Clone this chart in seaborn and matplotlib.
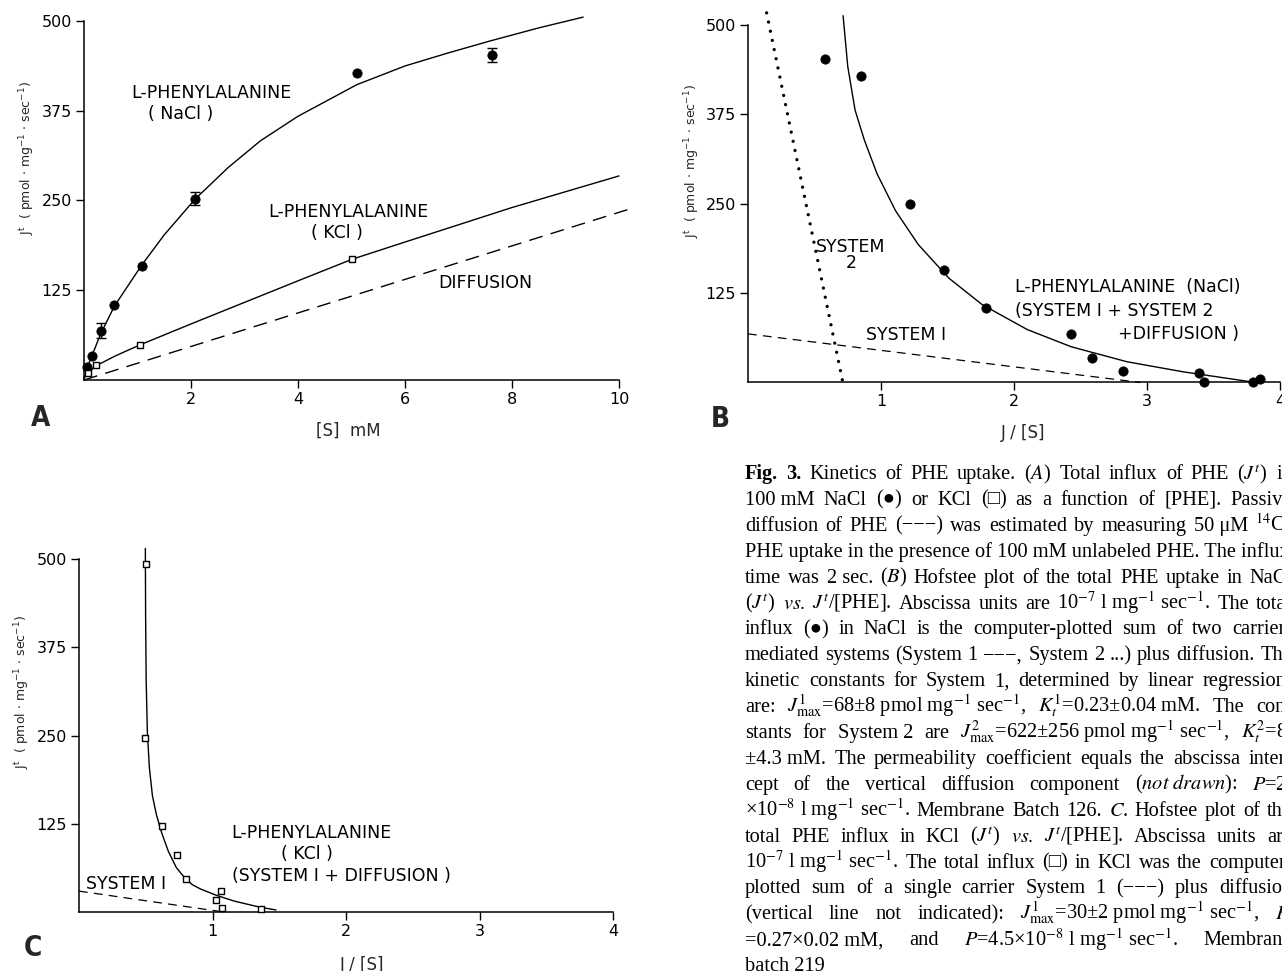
import matplotlib
matplotlib.use("Agg")
import matplotlib.pyplot as plt
import seaborn as sns

W, H = 1282, 971

# ---- Panel A: total influx vs [S] ----
NACL_S = [0.05, 0.15, 0.31, 0.57, 1.08, 2.08, 5.10, 7.63]
NACL_J = [17.7, 34, 68.6, 104.5, 158.6, 252, 427.7, 452.4]
NACL_ERR_S = [0.31, 2.08, 7.63]
NACL_ERR_J = [68.6, 252, 452.4]
NACL_ERR = [10.5, 9.0, 9.3]
KCL_S = [0.08, 0.23, 1.05, 5.01]
KCL_J = [9.8, 20.5, 49, 168]

NACL_FIT_S = [0, 0.05, 0.15, 0.31, 0.57, 1.08, 1.5, 2.08, 2.7, 3.3, 4.0, 5.1, 6.0, 6.8, 7.6, 8.5, 9.33]
NACL_FIT_J = [0, 16, 34, 64, 103, 160, 202, 252, 296, 333, 367, 411, 437, 455, 472, 490, 505]
KCL_FIT_S = [0, 0.08, 0.23, 0.6, 1.05, 2, 3, 4, 5.01, 6, 7, 8, 9, 10]
KCL_FIT_J = [3, 10, 20, 34, 49, 78, 108, 138, 168, 192, 216, 240, 262, 284]
DIFF_S = [0, 10.2]
DIFF_J = [0, 238]

# ---- Panel B: Hofstee plot, NaCl ----
B_X = [0.58, 0.85, 1.22, 1.47, 1.79, 2.43, 2.59, 2.82, 3.39, 3.43, 3.80, 3.85]
B_Y = [452, 428, 249, 157.6, 104.6, 68, 34.2, 16.4, 13.1, 0, 0, 4.7]
B_FIT_X = [0.715, 0.75, 0.805, 0.875, 0.97, 1.11, 1.28, 1.51, 1.76, 2.10, 2.43, 2.85, 3.27, 3.78]
B_FIT_Y = [513, 442, 381, 339, 292, 240, 193, 146, 109, 74, 50, 29, 15, 1]
B_SYS2_X = [0.14, 0.71]
B_SYS2_Y = [517, 3]
B_SYS1_X = [0, 2.95]
B_SYS1_Y = [68, 0]

# ---- Panel C: Hofstee plot, KCl ----
C_X = [0.50, 0.496, 0.62, 0.736, 0.80, 1.063, 1.028, 1.073, 1.36]
C_Y = [493, 247, 122, 80.7, 46.7, 30.6, 17, 5.7, 4.7]
C_FIT_X = [0.497, 0.499, 0.503, 0.512, 0.527, 0.55, 0.58, 0.62, 0.67, 0.73, 0.80, 0.85, 0.91, 1.03, 1.16, 1.36, 1.476]
C_FIT_Y = [515, 420, 330, 255, 205, 165, 138, 112, 86, 63, 47, 39, 33, 24, 16, 7, 3.3]
C_SYS1_X = [0, 1.1]
C_SYS1_Y = [30, 0]

Y_TICKS = [125, 250, 375, 500]
YLABEL = r"J$^{\mathrm{t}}$  ( pmol $\cdot$ mg$^{-1}$ $\cdot$ sec$^{-1}$)"

DASHES = "(\u2212\u2212\u2212)"
CAPTION = [
    [("Fig.", "bold"), ("3.", "bold"), "Kinetics", "of", "PHE", "uptake.", r"($\mathit{A}$)", "Total",
     "influx", "of", "PHE", r"($J^{t}$)", "in"],
    ["100 mM", "NaCl", "(\u25cf)", "or", "KCl", "(\u25a1)", "as", "a", "function", "of", "[PHE].", "Passive"],
    ["diffusion", "of", "PHE", DASHES, "was", "estimated", "by", "measuring", "50 \u03bcM", r"$^{14}$C-"],
    ["PHE uptake in the presence of 100 mM unlabeled PHE. The influx"],
    ["time", "was", "2 sec.", r"($\mathit{B}$)", "Hofstee", "plot", "of", "the", "total", "PHE", "uptake",
     "in", "NaCl"],
    [r"($J^{t}$)", r"$vs.$", r"$J^{t}$/[PHE].", "Abscissa", "units", "are",
     r"10$^{-7}$ l mg$^{-1}$ sec$^{-1}$.", "The", "total"],
    ["influx", "(\u25cf)", "in", "NaCl", "is", "the", "computer-plotted", "sum", "of", "two", "carrier-"],
    ["mediated", "systems", "(System", "1", "\u2212\u2212\u2212,", "System", "2", "...)", "plus",
     "diffusion.", "The"],
    ["kinetic", "constants", "for", "System", "1,", "determined", "by", "linear", "regression,"],
    ["are:", r"$J^{1}_{\mathrm{max}}$=68±8 pmol mg$^{-1}$ sec$^{-1}$,",
     r"$K^{1}_{t}$=0.23±0.04 mM.", "The", "con-"],
    ["stants", "for", "System 2", "are", r"$J^{2}_{\mathrm{max}}$=622±256 pmol mg$^{-1}$ sec$^{-1}$,",
     r"$K^{2}_{t}$=8."],
    ["±4.3 mM.", "The", "permeability", "coefficient", "equals", "the", "abscissa", "inter-"],
    ["cept", "of", "the", "vertical", "diffusion", "component", r"($\mathit{not\ drawn}$):", r"$P$=2."],
    [r"×10$^{-8}$ l mg$^{-1}$ sec$^{-1}$.", "Membrane", "Batch", "126.", r"$C$.", "Hofstee", "plot",
     "of", "the"],
    ["total", "PHE", "influx", "in", "KCl", r"($J^{t}$)", r"$vs.$", r"$J^{t}$/[PHE].", "Abscissa", "units",
     "are"],
    [r"10$^{-7}$ l mg$^{-1}$ sec$^{-1}$.", "The", "total", "influx", "(\u25a1)", "in", "KCl", "was", "the",
     "computer-"],
    ["plotted", "sum", "of", "a", "single", "carrier", "System", "1", DASHES, "plus", "diffusion"],
    ["(vertical", "line", "not", "indicated):",
     r"$J^{1}_{\mathrm{max}}$=30±2 pmol mg$^{-1}$ sec$^{-1}$,", r"$K$"],
    ["=0.27×0.02 mM,", "and", r"$P$=4.5×10$^{-8}$ l mg$^{-1}$ sec$^{-1}$.", "Membrane"],
    ["batch 219"],
]


def px_axes(fig, left, right, top, bottom):
    return fig.add_axes([left / W, 1 - bottom / H, (right - left) / W, (bottom - top) / H])


def style_axes(ax, xmax, xticks):
    ax.set_xlim(0, xmax)
    ax.set_ylim(0, 500)
    sns.despine(ax=ax)
    ax.set_facecolor("none")
    for s in ("left", "bottom"):
        ax.spines[s].set_linewidth(1.1)
        ax.spines[s].set_color("black")
    ax.spines["left"].set_bounds(0, 500)
    ax.spines["bottom"].set_bounds(0, xmax)
    ax.set_xticks(xticks)
    ax.set_xticklabels([str(t) for t in xticks])
    ax.set_yticks(Y_TICKS)
    ax.set_yticklabels([str(t) for t in Y_TICKS])
    ax.tick_params(direction="out", length=6, width=1, color="black", labelsize=11.5,
                   labelcolor="black", pad=2.5)
    ax.set_xlabel("")
    ax.set_ylabel("")


def curve(ax, x, y, **kw):
    sns.lineplot(x=x, y=y, ax=ax, color="black", estimator=None, sort=False,
                 clip_on=False, **kw)


def note(ax, x, y, s, ha="left"):
    ax.text(x, y, s, ha=ha, va="center", fontsize=12.5, color="black")


def set_caption(fig, lines, left=745, right=1292, top=479, step=25.9):
    renderer = fig.canvas.get_renderer()
    for i, toks in enumerate(lines):
        yb = 1 - (top + i * step) / H
        texts = []
        for tok in toks:
            weight = "normal"
            if isinstance(tok, tuple):
                tok, weight = tok
            t = fig.text(0, yb, tok, fontsize=14.7, fontweight=weight, va="baseline",
                         family=["Liberation Serif", "DejaVu Serif", "DejaVu Sans"],
                         math_fontfamily="stix", color="black")
            texts.append(t)
        widths = [t.get_window_extent(renderer).width for t in texts]
        last = i == len(lines) - 1
        if len(texts) > 1 and not last:
            gap = max((right - left - sum(widths)) / (len(texts) - 1), 4)
        else:
            gap = 5
        x = left
        for t, w in zip(texts, widths):
            t.set_x(x / W)
            x += w + gap


def main():
    sns.set_theme(style="ticks")
    plt.rcParams["font.family"] = ["DejaVu Sans"]
    plt.rcParams["mathtext.fontset"] = "dejavusans"

    fig = plt.figure(figsize=(W / 100, H / 100), dpi=100)
    fig.patch.set_facecolor("white")

    # ---------- A ----------
    ax = px_axes(fig, 84, 619, 20.7, 380)
    curve(ax, NACL_FIT_S, NACL_FIT_J, linewidth=1.0)
    curve(ax, KCL_FIT_S, KCL_FIT_J, linewidth=1.0)
    curve(ax, DIFF_S, DIFF_J, linewidth=1.0, linestyle=(0, (10, 6)))
    ax.errorbar(NACL_ERR_S, NACL_ERR_J, yerr=NACL_ERR, fmt="none", ecolor="black",
                elinewidth=1, capsize=3.5, capthick=1)
    sns.scatterplot(x=NACL_S, y=NACL_J, ax=ax, color="black", marker="o", s=45,
                    edgecolor="black", zorder=5, clip_on=False)
    sns.scatterplot(x=KCL_S, y=KCL_J, ax=ax, color="white", marker="s", s=20,
                    edgecolor="black", linewidth=1, zorder=5, clip_on=False)
    style_axes(ax, 10, [2, 4, 6, 8, 10])
    note(ax, 0.89, 399, "L-PHENYLALANINE")
    note(ax, 1.20, 370, "( NaCl )")
    note(ax, 3.45, 234, "L-PHENYLALANINE")
    note(ax, 4.25, 204.5, "( KCl )")
    note(ax, 6.62, 135, "DIFFUSION")

    # ---------- B ----------
    bx = px_axes(fig, 748, 1280, 25, 382.5)
    curve(bx, B_FIT_X, B_FIT_Y, linewidth=1.0)
    curve(bx, B_SYS2_X, B_SYS2_Y, linewidth=2.4, linestyle=(0, (0.01, 2.8)),
          dash_capstyle="round")
    curve(bx, B_SYS1_X, B_SYS1_Y, linewidth=0.9, linestyle=(0, (7, 5)))
    sns.scatterplot(x=B_X, y=B_Y, ax=bx, color="black", marker="o", s=45,
                    edgecolor="black", zorder=5, clip_on=False)
    style_axes(bx, 4, [1, 2, 3, 4])
    note(bx, 0.51, 190, "SYSTEM")
    note(bx, 0.78, 166.5, "2", ha="center")
    note(bx, 0.89, 66.6, "SYSTEM I")
    note(bx, 2.01, 133, "L-PHENYLALANINE  (NaCl)")
    note(bx, 2.01, 99.4, "(SYSTEM I + SYSTEM 2")
    note(bx, 2.78, 68, "+DIFFUSION )")

    # ---------- C ----------
    cx = px_axes(fig, 79, 613, 559, 912.3)
    curve(cx, C_FIT_X, C_FIT_Y, linewidth=1.0)
    curve(cx, C_SYS1_X, C_SYS1_Y, linewidth=0.9, linestyle=(0, (7, 5)))
    sns.scatterplot(x=C_X, y=C_Y, ax=cx, color="white", marker="s", s=20,
                    edgecolor="black", linewidth=1, zorder=5, clip_on=False)
    style_axes(cx, 4, [1, 2, 3, 4])
    note(cx, 0.055, 40, "SYSTEM I")
    note(cx, 1.14, 112, "L-PHENYLALANINE")
    note(cx, 1.515, 82.7, "( KCl )")
    note(cx, 1.148, 50.8, "(SYSTEM I + DIFFUSION )")

    # axis labels and panel letters (figure pixel positions)
    for x, y in ((27, 158), (692, 161), (22, 692)):
        fig.text(x / W, 1 - y / H, YLABEL, rotation=90, ha="center", va="center", fontsize=9)
    fig.text(348 / W, 1 - 431 / H, "[S]  mM", ha="center", va="center", fontsize=12)
    fig.text(1023 / W, 1 - 433 / H, "J / [S]", ha="center", va="center", fontsize=12)
    fig.text(362 / W, 1 - 965 / H, "J / [S]", ha="center", va="center", fontsize=12)
    for x, y, s in ((41, 418, "A"), (720, 419, "B"), (33, 948, "C")):
        fig.text(x / W, 1 - y / H, s, ha="center", va="center", fontsize=20,
                 fontweight="bold", fontstretch="condensed",
                 family=["Liberation Sans Narrow", "DejaVu Sans Condensed", "DejaVu Sans"])

    set_caption(fig, CAPTION)

    fig.savefig("out.png", dpi=100, facecolor="white")
    plt.close(fig)


if __name__ == "__main__":
    main()
